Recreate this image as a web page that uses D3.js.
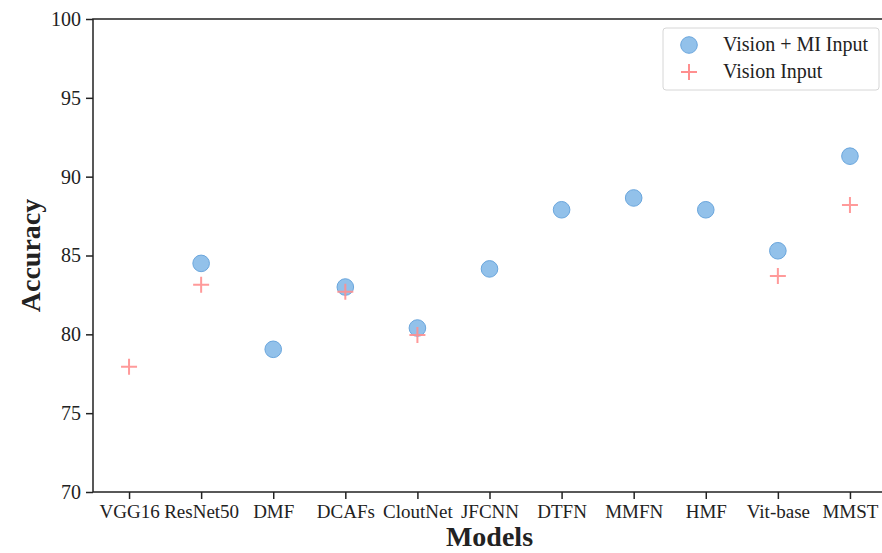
<!DOCTYPE html>
<html>
<head>
<meta charset="utf-8">
<script src="https://cdn.jsdelivr.net/npm/d3@7"></script>
<style>
  body { margin: 0; background: #fff; }
  text { font-family: "Palatino Linotype", "Book Antiqua", Palatino, "Liberation Serif", serif; }
</style>
</head>
<body>
<div id="chart"></div>
<script>
  var models = ['VGG16', 'ResNet50', 'DMF', 'DCAFs', 'CloutNet', 'JFCNN', 'DTFN', 'MMFN', 'HMF', 'Vit-base', 'MMST'];

  // null = no point for that model
  var mi_input = [null, 84.5, 79.05, 83.0, 80.4, 84.15, 87.9, 88.65, 87.9, 85.3, 91.3];
  var vision_input = [77.95, 83.15, null, 82.7, 79.95, null, null, null, null, 83.7, 88.2];

  var y_ticks = [70, 75, 80, 85, 90, 95, 100];

  var width = 882, height = 553;
  var margin = { left: 93, top: 19, bottom: 61 };
  var plot_right = 886;

  var svg = d3.select('#chart').append('svg')
      .attr('width', width)
      .attr('height', height);

  var x = d3.scalePoint()
      .domain(models)
      .range([margin.left, plot_right])
      .padding(0.5);

  var y = d3.scaleLinear()
      .domain([70, 100])
      .range([height - margin.bottom, margin.top]);

  // frame
  svg.append('rect')
      .attr('x', margin.left)
      .attr('y', margin.top)
      .attr('width', plot_right - margin.left)
      .attr('height', y(70) - y(100))
      .attr('fill', 'none')
      .attr('stroke', '#222')
      .attr('stroke-width', 1.5);

  // axes
  let xAxis = svg.append('g')
      .attr('transform', `translate(0, ${ y(70) })`)
      .call(d3.axisBottom(x).tickSize(7).tickPadding(6));

  let yAxis = svg.append('g')
      .attr('transform', `translate(${ margin.left }, 0)`)
      .call(d3.axisLeft(y).tickValues(y_ticks).tickSize(7).tickPadding(5));

  [xAxis, yAxis].forEach((a, k) => {
    a.select('.domain').remove();
    a.selectAll('.tick line').attr('stroke', '#222').attr('stroke-width', 1.5);
    a.selectAll('.tick text')
        .attr('fill', '#222')
        .attr('font-size', k === 0 ? '19px' : '20px')
        .style('font-family', '"Palatino Linotype", "Book Antiqua", Palatino, "Liberation Serif", serif');
  });

  // axis titles
  svg.append('text')
      .attr('x', (margin.left + plot_right) / 2)
      .attr('y', 546)
      .attr('text-anchor', 'middle')
      .attr('font-size', '28px')
      .attr('font-weight', 'bold')
      .attr('fill', '#222')
      .text('Models');

  svg.append('text')
      .attr('transform', `translate(40, ${ y(85) }) rotate(-90)`)
      .attr('text-anchor', 'middle')
      .attr('font-size', '28px')
      .attr('font-weight', 'bold')
      .attr('fill', '#222')
      .text('Accuracy');

  var circle_fill = '#7fb6e6';
  var circle_edge = '#6aa6dd';
  var plus_color = '#ff8f8f';

  var plus_path = (cx, cy, r) => `M${ cx - r },${ cy }H${ cx + r }M${ cx },${ cy - r }V${ cy + r }`;

  // vision + MI points
  svg.append('g')
      .selectAll('circle')
      .data(models.map((m, i) => [m, mi_input[i]]).filter((d) => d[1] !== null))
      .enter().append('circle')
      .attr('cx', (d) => x(d[0]))
      .attr('cy', (d) => y(d[1]))
      .attr('r', 8.3)
      .attr('fill', circle_fill)
      .attr('fill-opacity', 0.85)
      .attr('stroke', circle_edge)
      .attr('stroke-width', 1);

  // vision only points
  svg.append('g')
      .selectAll('path')
      .data(models.map((m, i) => [m, vision_input[i]]).filter((d) => d[1] !== null))
      .enter().append('path')
      .attr('d', (d) => plus_path(x(d[0]), y(d[1]), 8))
      .attr('stroke', plus_color)
      .attr('stroke-opacity', 0.9)
      .attr('stroke-width', 2)
      .attr('fill', 'none');

  // legend
  let legend = svg.append('g');

  legend.append('rect')
      .attr('x', 663)
      .attr('y', 28)
      .attr('width', 216)
      .attr('height', 62)
      .attr('rx', 3)
      .attr('fill', '#fff')
      .attr('fill-opacity', 0.8)
      .attr('stroke', '#d6d6d6')
      .attr('stroke-width', 1);

  legend.append('circle')
      .attr('cx', 689)
      .attr('cy', 45)
      .attr('r', 8.3)
      .attr('fill', circle_fill)
      .attr('fill-opacity', 0.85)
      .attr('stroke', circle_edge);

  legend.append('path')
      .attr('d', plus_path(689, 72, 8))
      .attr('stroke', plus_color)
      .attr('stroke-width', 2);

  legend.selectAll('text.lbl')
      .data(['Vision + MI Input', 'Vision Input'])
      .enter().append('text')
      .attr('class', 'lbl')
      .attr('x', 723)
      .attr('y', (d, i) => 51 + i * 27)
      .attr('font-size', '20px')
      .attr('fill', '#222')
      .text((d) => d);
</script>
</body>
</html>
